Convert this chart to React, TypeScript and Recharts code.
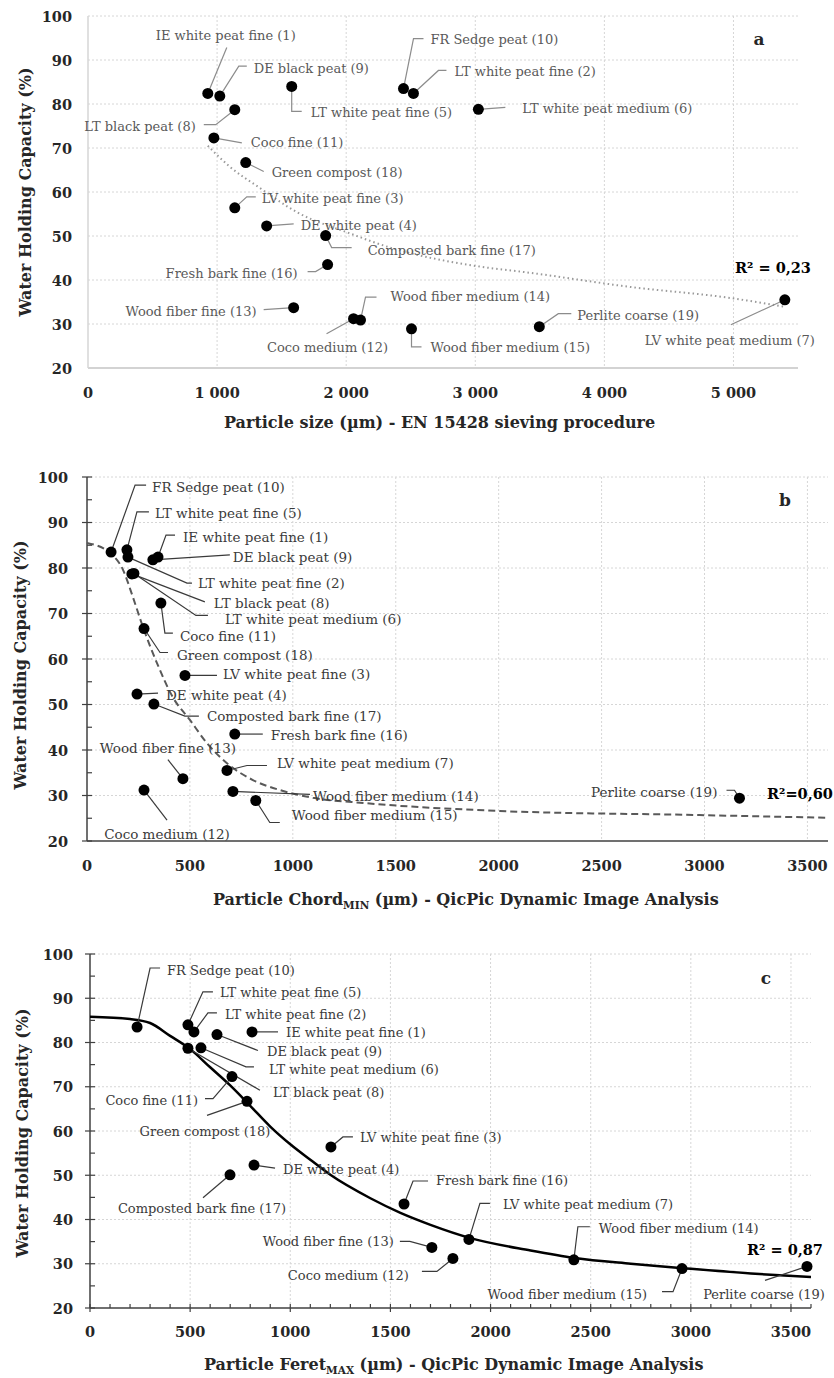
import React from 'react';
import { ScatterChart, Scatter, XAxis, YAxis, CartesianGrid } from 'recharts';

// materials, in sample-number order (1..19)
const materials = [
  'IE white peat fine (1)', 'LT white peat fine (2)', 'LV white peat fine (3)', 'DE white peat (4)',
  'LT white peat fine (5)', 'LT white peat medium (6)', 'LV white peat medium (7)', 'LT black peat (8)',
  'DE black peat (9)', 'FR Sedge peat (10)', 'Coco fine (11)', 'Coco medium (12)', 'Wood fiber fine (13)',
  'Wood fiber medium (14)', 'Wood fiber medium (15)', 'Fresh bark fine (16)', 'Composted bark fine (17)',
  'Green compost (18)', 'Perlite coarse (19)',
];

// water holding capacity (%)
const whc = [82.4, 82.4, 56.4, 52.3, 84.0, 78.8, 35.5, 78.7, 81.8, 83.5, 72.3, 31.2, 33.7, 30.9, 28.9, 43.5, 50.1, 66.7, 29.4];

// particle size, EN 15428 sieving (µm)
const sieveSize = [928, 2521, 1137, 1384, 1578, 3024, 5398, 1137, 1021, 2444, 975, 2057, 1593, 2111, 2506, 1856, 1841, 1222, 3496];
// QicPic chord min (µm)
const chordMin = [345, 199, 476, 243, 194, 228, 680, 218, 320, 117, 359, 277, 466, 709, 820, 718, 325, 277, 3170];
// QicPic feret max (µm)
const feretMax = [809, 519, 1203, 819, 489, 554, 1892, 489, 634, 235, 709, 1812, 1707, 2416, 2956, 1568, 699, 784, 3580];

// trend lines
const fitAx = [928, 1100, 1322, 1632, 2018, 2405, 2660, 3000, 3434, 4207, 4980, 5398];
const fitAy = [70.5, 65.7, 61.1, 55.2, 50.7, 46.8, 45.0, 43.2, 41.6, 38.4, 35.9, 33.9];
const fitBx = [0, 112, 175, 223, 272, 340, 417, 500, 583, 680, 806, 937, 1097, 1359, 2005, 2976, 3600];
const fitBy = [85.5, 83.3, 79.6, 73.6, 67.0, 59.1, 51.6, 46.6, 41.5, 37.1, 33.4, 31.2, 29.5, 28.3, 26.6, 25.7, 25.1];
const fitCx = [0, 200, 300, 400, 500, 600, 700, 800, 900, 1000, 1100, 1200, 1400, 1550, 1700, 1900, 2200, 2420, 2700, 2960, 3300, 3600];
const fitCy = [85.8, 85.3, 84.4, 81.5, 78.5, 74.4, 70.3, 65.7, 61.0, 57.0, 53.5, 50.1, 44.8, 41.5, 38.8, 35.8, 33.0, 31.3, 30.0, 29.0, 27.8, 27.0];

const r2Labels = ['R² = 0,23', 'R²=0,60', 'R² = 0,87'];

// ticks
const yTicksA = [20, 30, 40, 50, 60, 70, 80, 90, 100];
const yTicksMinor = [20, 25, 30, 35, 40, 45, 50, 55, 60, 65, 70, 75, 80, 85, 90, 95, 100];
const xTicksA = [0, 1000, 2000, 3000, 4000, 5000];
const xTicksB = [0, 500, 1000, 1500, 2000, 2500, 3000, 3500];
const xTicksC = Array.from({ length: 37 }, (_, k) => k * 100);

// label layout per sample: [elbow dx, elbow dy, hook, text dx, text dy, anchor]
type Lay = [number, number, number, number, number, 'start' | 'middle' | 'end'];
const layA: Lay[] = [
  [19, -46, 0, 18, -58, 'middle'], [25, -23, 8, 41, -22, 'start'], [12, -11, 9, 27, -9, 'start'],
  [27, -2, 0, 34, 0, 'start'], [0, 25, 10, 19, 26, 'start'], [27, -2, 0, 44, -1, 'start'],
  [-54, 25, 0, -55, 41, 'middle'], [-19, 15, -12, -39, 17, 'end'], [19, -30, 8, 34, -28, 'start'],
  [10, -50, 10, 27, -49, 'start'], [28, 5, 0, 37, 5, 'start'], [-27, 15, 0, -26, 29, 'middle'],
  [-30, 2, 0, -37, 4, 'end'], [5, -23, 11, 30, -24, 'start'], [0, 18, 10, 19, 19, 'start'],
  [-12, 7, -8, -30, 9, 'end'], [6, 12, 20, 42, 15, 'start'], [18, 9, 0, 26, 10, 'start'],
  [19, -13, 13, 38, -11, 'start'],
];
const layB: Lay[] = [
  [8, -22, 9, 25, -20, 'start'], [59, 26, 5, 70, 26, 'start'], [32, 0, 0, 38, -1, 'start'],
  [21, -1, 0, 29, 1, 'start'], [10, -38, 12, 28, -37, 'start'], [62, 42, 12, 91, 46, 'start'],
  [20, -5, 20, 50, -7, 'start'], [73, 28, 0, 82, 29, 'start'], [77, -5, 0, 80, -3, 'start'],
  [24, -67, 11, 41, -65, 'start'], [4, 30, 8, 19, 33, 'start'], [23, 30, 0, 23, 44, 'middle'],
  [-15, -19, 0, -15, -31, 'middle'], [77, 3, 0, 80, 5, 'start'], [14, 22, 10, 36, 14, 'start'],
  [28, 0, 0, 36, 1, 'start'], [31, 12, 14, 53, 12, 'start'], [16, 24, 8, 33, 26, 'start'],
  [-5, -8, -8, -22, -6, 'end'],
];
const layC: Lay[] = [
  [26, 0, 0, 34, 1, 'start'], [14, -19, 9, 31, -17, 'start'], [12, -10, 10, 29, -9, 'start'],
  [21, 3, 0, 29, 4, 'start'], [15, -33, 10, 32, -32, 'start'], [45, 19, 8, 68, 22, 'start'],
  [11, -36, 10, 34, -35, 'start'], [72, 42, 0, 85, 44, 'start'], [41, 16, 0, 50, 17, 'start'],
  [13, -59, 10, 30, -57, 'start'], [-19, 22, -8, -34, 24, 'end'], [-16, 13, -15, -44, 17, 'end'],
  [-22, -6, -10, -38, -6, 'end'], [4, -33, 12, 25, -31, 'start'], [-9, 23, -11, -35, 26, 'end'],
  [9, -23, 15, 32, -24, 'start'], [-27, 23, 0, -28, 34, 'middle'], [-40, 14, 0, -42, 30, 'middle'],
  [-42, 14, 0, -43, 28, 'middle'],
];

const SERIF = "'DejaVu Serif', serif";

const thousands = (v: number) => (v >= 1000 ? `${Math.floor(v / 1000)} ${String(v % 1000).padStart(3, '0')}` : String(v));

type PanelProps = {
  xs: number[];
  fitX: number[];
  fitY: number[];
  fitStyle: any;
  lays: Lay[];
  labelColor: string;
  leaderColor: string;
  labelSize: number;
  height: number;
  margin: { top: number; right: number; left: number; bottom: number };
  yWidth: number;
  xHeight: number;
  xMax: number;
  xTicks: number[];
  xMajor: number;
  yTicks: number[];
  gridX: number[];
  axisColor: string;
  axisWidth: number;
  tickMarksX: boolean;
  tickMarksY: boolean;
  fmt: (v: number) => string;
  xLabelDy: number;
  yLabelDx: number;
  tickSize: number;
};

const Panel = (p: PanelProps) => {
  const pts = materials.map((name, i) => ({ x: p.xs[i], y: whc[i], name, i }));
  const fit = p.fitX.map((x, k) => ({ x, y: p.fitY[k] }));

  const xTick = (t: any) => {
    const v = t.payload.value;
    const major = v % p.xMajor === 0;
    return (
      <g>
        {p.tickMarksX && (
          <line x1={t.x} x2={t.x} y1={t.y - 4} y2={major ? t.y + 4 : t.y} stroke={p.axisColor} strokeWidth={1.2} />
        )}
        {major && (
          <text x={t.x} y={t.y + p.xLabelDy} textAnchor="middle" dominantBaseline="central"
            fontFamily={SERIF} fontWeight="bold" fontSize={p.tickSize} fill="#262626">
            {p.fmt(v)}
          </text>
        )}
      </g>
    );
  };

  const yTick = (t: any) => {
    const v = t.payload.value;
    const major = v % 10 === 0;
    return (
      <g>
        {p.tickMarksY && (
          <line x1={major ? t.x - 5 : t.x} x2={t.x + 5} y1={t.y} y2={t.y} stroke={p.axisColor} strokeWidth={1.2} />
        )}
        {major && (
          <text x={t.x + p.yLabelDx} y={t.y} textAnchor="end" dominantBaseline="central"
            fontFamily={SERIF} fontWeight="bold" fontSize={p.tickSize} fill="#262626">
            {v}
          </text>
        )}
      </g>
    );
  };

  const labelShape = (s: any) => {
    const { cx, cy, payload } = s;
    const [ex, ey, hook, tx, ty, anchor] = p.lays[payload.i];
    const x1 = cx + ex;
    const y1 = cy + ey;
    return (
      <g>
        <polyline points={`${cx},${cy} ${x1},${y1} ${x1 + hook},${y1}`} fill="none" stroke={p.leaderColor} strokeWidth={1.2} />
        <text x={cx + tx} y={cy + ty} textAnchor={anchor} dominantBaseline="central"
          fontFamily={SERIF} fontSize={p.labelSize} fill={p.labelColor}>
          {payload.name}
        </text>
      </g>
    );
  };

  const dotShape = (s: any) => <circle cx={s.cx} cy={s.cy} r={5.5} fill="#000" />;

  return (
    <ScatterChart width={834} height={p.height} margin={p.margin} style={{ overflow: 'visible' }}>
      <CartesianGrid stroke="#d6d6d6" strokeDasharray="2 2" horizontalValues={[30, 40, 50, 60, 70, 80, 90, 100]} verticalValues={p.gridX} />
      <XAxis type="number" dataKey="x" domain={[0, p.xMax]} ticks={p.xTicks} interval={0}
        height={p.xHeight} tickLine={false} tickSize={0} tickMargin={0} tick={xTick}
        axisLine={{ stroke: p.axisColor, strokeWidth: p.axisWidth }} />
      <YAxis type="number" dataKey="y" domain={[20, 100]} ticks={p.yTicks} interval={0}
        width={p.yWidth} tickLine={false} tickSize={0} tickMargin={0} tick={yTick}
        axisLine={{ stroke: p.tickMarksY ? p.axisColor : '#d6d6d6', strokeWidth: p.axisWidth }} />
      <Scatter data={fit} line={p.fitStyle} lineType="joint" lineJointType="monotoneX" shape={() => <g />} isAnimationActive={false} />
      <Scatter data={pts} shape={labelShape} isAnimationActive={false} />
      <Scatter data={pts} shape={dotShape} isAnimationActive={false} />
    </ScatterChart>
  );
};

const abs = (left: number, top: number, extra: React.CSSProperties = {}): React.CSSProperties => ({
  position: 'absolute', left, top, fontFamily: SERIF, fontWeight: 'bold', whiteSpace: 'nowrap', ...extra,
});

const YTitle = ({ cx, cy }: { cx: number; cy: number }) => (
  <div style={abs(cx, cy, { fontSize: 16, color: '#262626', transform: 'translate(-50%, -50%) rotate(-90deg)' })}>
    Water Holding Capacity (%)
  </div>
);

const sub: React.CSSProperties = { fontSize: 10.5, verticalAlign: '-4px' };

export default function App() {
  return (
    <div style={{ position: 'absolute', left: 0, top: 0, width: 834, height: 1378, background: '#fff', overflow: 'hidden' }}>
      <div style={{ position: 'absolute', left: 0, top: 0 }}>
        <Panel xs={sieveSize} fitX={fitAx} fitY={fitAy}
          fitStyle={{ stroke: '#9a9a9a', strokeWidth: 2, strokeDasharray: '1.5 3' }}
          lays={layA} labelColor="#595959" leaderColor="#8c8c8c" labelSize={13}
          height={440} margin={{ top: 16, right: 36, left: 0, bottom: 0 }} yWidth={88} xHeight={72}
          xMax={5500} xTicks={xTicksA} xMajor={1000} yTicks={yTicksA} gridX={[1000, 2000, 3000, 4000, 5000]}
          axisColor="#c4c4c4" axisWidth={1.5} tickMarksX={false} tickMarksY={false} fmt={thousands}
          xLabelDy={24} yLabelDx={-16} tickSize={14.5} />
      </div>
      <div style={{ position: 'absolute', left: 0, top: 460 }}>
        <Panel xs={chordMin} fitX={fitBx} fitY={fitBy}
          fitStyle={{ stroke: '#595959', strokeWidth: 2, strokeDasharray: '7 4' }}
          lays={layB} labelColor="#3a3a3a" leaderColor="#3a3a3a" labelSize={13.5}
          height={460} margin={{ top: 17, right: 6, left: 0, bottom: 0 }} yWidth={87} xHeight={79}
          xMax={3600} xTicks={xTicksB} xMajor={500} yTicks={yTicksMinor} gridX={[500, 1000, 1500, 2000, 2500, 3000, 3500]}
          axisColor="#404040" axisWidth={1.5} tickMarksX={false} tickMarksY={true} fmt={String}
          xLabelDy={24} yLabelDx={-19} tickSize={14.5} />
      </div>
      <div style={{ position: 'absolute', left: 0, top: 920 }}>
        <Panel xs={feretMax} fitX={fitCx} fitY={fitCy}
          fitStyle={{ stroke: '#000', strokeWidth: 2.5 }}
          lays={layC} labelColor="#3a3a3a" leaderColor="#3a3a3a" labelSize={13}
          height={458} margin={{ top: 34, right: 23, left: 0, bottom: 0 }} yWidth={90} xHeight={70}
          xMax={3600} xTicks={xTicksC} xMajor={500} yTicks={yTicksMinor} gridX={[500, 1000, 1500, 2000, 2500, 3000, 3500]}
          axisColor="#404040" axisWidth={1.5} tickMarksX={true} tickMarksY={true} fmt={String}
          xLabelDy={23} yLabelDx={-17} tickSize={14.5} />
      </div>

      <YTitle cx={25} cy={192} />
      <YTitle cx={20} cy={665} />
      <YTitle cx={22} cy={1133} />

      <div style={abs(224, 413, { fontSize: 16, color: '#262626' })}>Particle size (µm) - EN 15428 sieving procedure</div>
      <div style={abs(213, 890, { fontSize: 16, color: '#262626' })}>
        Particle Chord<span style={sub}>MIN</span> (µm) - QicPic Dynamic Image Analysis
      </div>
      <div style={abs(204, 1355, { fontSize: 16, color: '#262626' })}>
        Particle Feret<span style={sub}>MAX</span> (µm) - QicPic Dynamic Image Analysis
      </div>

      <div style={abs(759, 39, { fontSize: 17, color: '#262626', transform: 'translate(-50%, -50%)' })}>a</div>
      <div style={abs(785, 500, { fontSize: 17, color: '#262626', transform: 'translate(-50%, -50%)' })}>b</div>
      <div style={abs(766, 978, { fontSize: 17, color: '#262626', transform: 'translate(-50%, -50%)' })}>c</div>

      <div style={abs(735, 267, { fontSize: 14.5, color: '#000', transform: 'translateY(-50%)' })}>{r2Labels[0]}</div>
      <div style={abs(767, 793, { fontSize: 14.5, color: '#000', transform: 'translateY(-50%)' })}>{r2Labels[1]}</div>
      <div style={abs(747, 1249, { fontSize: 14.5, color: '#000', transform: 'translateY(-50%)' })}>{r2Labels[2]}</div>
    </div>
  );
}
